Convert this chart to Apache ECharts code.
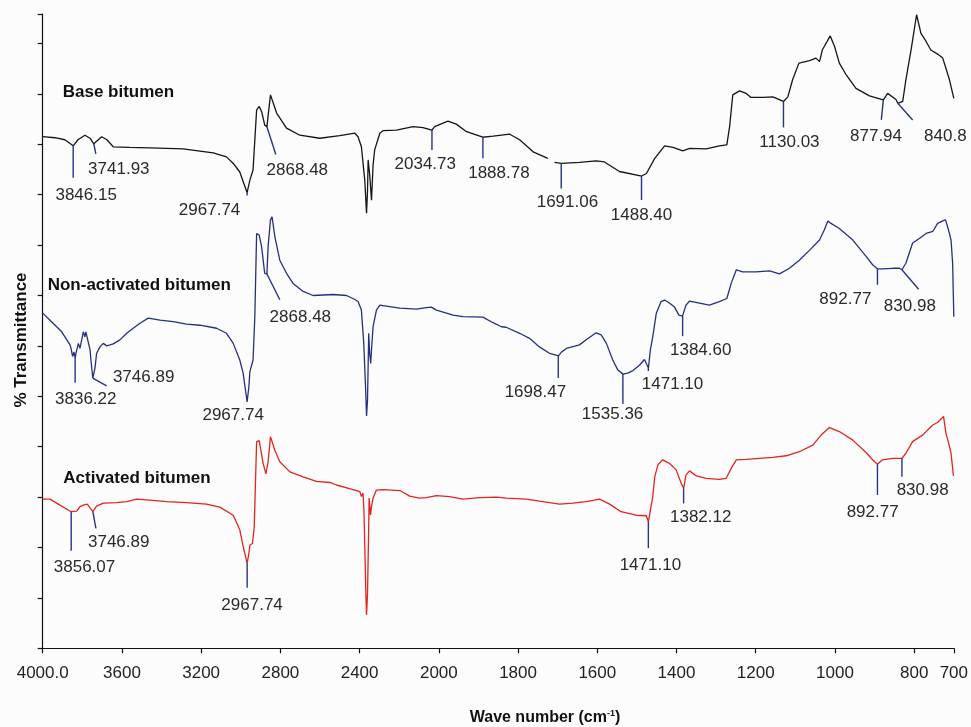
<!DOCTYPE html>
<html>
<head>
<meta charset="utf-8">
<title>FTIR spectra of bitumen samples</title>
<script src="https://cdn.jsdelivr.net/npm/echarts@6/dist/echarts.min.js"></script>
<style>
  html, body { margin: 0; padding: 0; background: #fcfcfc; }
  #chart { width: 971px; height: 727px; }
</style>
</head>
<body>
<div id="chart"></div>
<script>
// FTIR spectra, [wave number (cm-1), % transmittance (offset, arbitrary units)]
// A null transmittance marks a break in the recorded trace.
const baseSpectrum = [
  [4000,10.15],[3938,10.13],[3888,10.09],[3846,9.97],[3822,10.09],[3787,10.18],[3761,10.12],[3742,10.01],
  [3702,10.15],[3676,10.09],[3644,9.95],[3560,9.94],[3459,9.93],[3291,9.91],[3139,9.83],[3072,9.75],
  [3038,9.62],[3005,9.45],[2968,9.04],[2954,9.29],[2938,9.49],[2920,10.68],[2907,10.75],[2894,10.64],
  [2879,10.38],[2868,10.35],[2850,10.98],[2819,10.62],[2769,10.32],[2702,10.18],[2601,10.12],[2500,10.17],
  [2424,10.22],[2408,10.15],[2391,9.95],[2374,9.29],[2365,8.63],[2360,9.09],[2357,9.69],[2349,9.39],
  [2340,8.89],[2332,9.59],[2324,9.89],[2298,10.22],[2282,10.27],[2214,10.28],[2130,10.35],[2080,10.33],
  [2035,10.28],[2021,10.35],[1977,10.46],[1956,10.40],[1930,10.25],[1889,10.14],[1863,10.16],[1821,10.20],
  [1796,10.09],[1762,9.85],[1725,9.72],[1716,null],[1708,9.64],[1691,9.62],[1645,9.64],[1603,9.67],[1582,9.65],
  [1544,9.46],[1488,9.37],[1476,9.42],[1455,9.72],[1430,9.97],[1409,9.94],[1384,9.87],[1367,9.92],
  [1325,9.91],[1292,9.97],[1273,9.99],[1266,10.35],[1258,10.98],[1241,11.06],[1224,11.01],[1212,10.93],
  [1182,10.93],[1157,10.94],[1130,10.85],[1119,10.94],[1107,11.28],[1091,11.61],[1064,11.66],[1048,11.71],
  [1039,11.64],[1032,11.87],[1012,12.15],[1001,11.94],[989,11.61],[972,11.38],[947,11.11],[913,10.96],
  [878,10.88],[867,11.01],[846,10.89],[841,10.81],[829,10.85],[821,11.28],[808,11.87],[794,12.57],
  [783,12.20],[770,12.04],[758,11.87],[741,11.79],[728,11.71],[711,11.28],[700,10.91]
];

const nonActivatedSpectrum = [
  [4000,6.65],[3963,6.51],[3904,6.28],[3862,6.02],[3857,5.95],[3849,5.79],[3842,5.88],[3836,5.76],
  [3832,5.85],[3820,6.05],[3812,5.95],[3803,6.12],[3795,6.28],[3787,6.18],[3782,6.28],[3773,6.25],
  [3761,5.92],[3754,5.62],[3747,5.36],[3736,5.56],[3728,5.85],[3711,5.98],[3694,6.05],[3677,6.00],
  [3660,6.02],[3644,6.04],[3610,6.12],[3576,6.25],[3543,6.35],[3509,6.45],[3467,6.55],[3408,6.51],
  [3341,6.48],[3274,6.43],[3206,6.41],[3122,6.35],[3072,6.25],[3038,6.05],[3005,5.72],[2988,5.46],
  [2968,4.89],[2959,5.19],[2954,5.49],[2946,5.52],[2938,5.72],[2929,6.58],[2920,8.23],[2907,8.20],
  [2895,7.97],[2879,7.44],[2868,7.43],[2862,7.97],[2850,8.50],[2842,8.56],[2828,8.17],[2803,7.70],
  [2769,7.44],[2736,7.24],[2685,7.08],[2635,7.00],[2584,7.01],[2534,7.02],[2466,7.00],[2424,6.92],
  [2408,6.88],[2391,6.71],[2379,6.05],[2370,5.19],[2365,4.61],[2360,4.93],[2354,6.25],[2349,5.85],
  [2344,5.65],[2340,5.92],[2332,6.38],[2315,6.71],[2298,6.81],[2265,6.79],[2197,6.75],[2113,6.73],
  [2063,6.76],[2038,6.77],[2012,6.71],[1964,6.61],[1939,6.58],[1889,6.57],[1863,6.46],[1842,6.38],
  [1830,6.37],[1796,6.25],[1771,6.15],[1746,5.98],[1720,5.85],[1698,5.80],[1690,5.88],[1678,5.95],
  [1645,6.02],[1628,6.12],[1603,6.26],[1590,6.22],[1577,6.05],[1561,5.72],[1548,5.52],[1535,5.44],
  [1523,5.46],[1510,5.51],[1493,5.62],[1481,5.73],[1471,5.56],[1466,5.92],[1460,6.18],[1451,6.65],
  [1439,6.88],[1430,6.91],[1418,6.85],[1405,6.77],[1394,6.61],[1385,6.59],[1376,6.81],[1367,6.89],
  [1342,6.85],[1317,6.81],[1292,6.88],[1273,6.94],[1262,7.24],[1249,7.51],[1233,7.47],[1199,7.47],
  [1165,7.49],[1140,7.43],[1115,7.54],[1090,7.70],[1064,7.90],[1039,8.10],[1027,8.30],[1018,8.48],
  [1010,8.43],[989,8.33],[955,8.10],[921,7.77],[905,7.61],[893,7.53],[880,7.53],[854,7.54],
  [837,7.54],[831,7.51],[821,7.64],[804,8.04],[787,8.13],[770,8.23],[753,8.27],[741,8.43],
  [728,8.48],[721,8.50],[716,8.37],[711,8.23],[707,8.10],[703,7.64],[700,6.58]
];

const activatedSpectrum = [
  [4000,2.96],[3963,2.96],[3913,2.84],[3856,2.71],[3828,2.72],[3812,2.81],[3795,2.84],[3787,2.81],
  [3775,2.86],[3747,2.71],[3728,2.82],[3694,2.88],[3627,2.89],[3576,2.91],[3526,2.96],[3459,2.94],
  [3374,2.91],[3274,2.89],[3173,2.86],[3106,2.80],[3038,2.64],[3005,2.35],[2988,2.02],[2968,1.69],
  [2959,1.88],[2954,2.05],[2941,2.08],[2932,2.41],[2920,4.10],[2907,4.12],[2887,3.67],[2873,3.46],
  [2862,3.70],[2850,4.20],[2845,4.23],[2828,3.93],[2803,3.70],[2752,3.50],[2685,3.40],[2618,3.31],
  [2551,3.29],[2517,3.24],[2433,3.15],[2399,3.11],[2391,3.01],[2383,3.08],[2378,2.74],[2369,1.16],
  [2365,0.66],[2360,1.09],[2355,2.21],[2352,2.98],[2345,2.64],[2340,2.81],[2332,2.98],[2315,3.14],
  [2282,3.15],[2197,3.13],[2147,3.02],[2097,2.98],[2063,2.99],[2012,3.03],[1973,3.01],[1939,2.96],
  [1897,2.99],[1855,3.00],[1830,2.98],[1779,2.96],[1746,2.92],[1695,2.86],[1662,2.88],[1628,2.91],
  [1594,2.96],[1569,2.86],[1540,2.71],[1502,2.64],[1476,2.63],[1471,2.51],[1466,2.74],[1460,3.01],
  [1455,3.40],[1447,3.64],[1435,3.74],[1418,3.67],[1401,3.54],[1388,3.27],[1382,3.17],[1376,3.44],
  [1367,3.52],[1350,3.42],[1325,3.37],[1292,3.35],[1275,3.37],[1262,3.57],[1249,3.74],[1224,3.75],
  [1191,3.77],[1157,3.79],[1123,3.82],[1090,3.90],[1056,4.03],[1035,4.23],[1014,4.38],[989,4.30],
  [955,4.13],[921,3.88],[905,3.74],[893,3.65],[880,3.74],[854,3.77],[831,3.77],[821,3.87],
  [804,4.10],[779,4.23],[753,4.43],[741,4.48],[726,4.60],[720,4.27],[713,4.07],[707,3.87],[701,3.42]
];

// Assigned band positions (cm-1), as printed on the spectra
const basePeaks = ['3846.15','3741.93','2967.74','2868.48','2034.73','1888.78','1691.06','1488.40','1130.03','877.94','840.8'];
const nonActivatedPeaks = ['3836.22','3746.89','2967.74','2868.48','1698.47','1535.36','1471.10','1384.60','892.77','830.98'];
const activatedPeaks = ['3856.07','3746.89','2967.74','1471.10','1382.12','892.77','830.98'];

// Wave-number axis tick labels
const xTickLabels = [4000, 3600, 3200, 2800, 2400, 2000, 1800, 1600, 1400, 1200, 1000, 800, 700];

// Leader-line end offset and label centre offset in px: [dx, dy, lx, ly]
const basePeakLayout = [
  [0,32,13,50],[2,10,25,25.5],[0,3,-37.6,18],[9,28,30.5,43.3],[0,20,-6.7,34.3],[0,21,16,35.6],
  [0,25,6.2,38.8],[0,24,0,39.4],[0,26,6,40.7],[-2,20,-7.3,36.7],[14.6,16.5,47.3,32.5]
];
const nonActivatedPeakLayout = [
  [0,25,10.6,41.2],[13.8,7.8,50.8,-0.4],[0,0,-14,13.6],[13,26,33.5,43.2],[0,22,-22.9,36.2],
  [0,30,-10.3,40.6],[0,3,24.2,16.6],[0,20.5,18.1,35],[0,16,-32.1,30.5],[16.7,19.5,7.9,36.2]
];
const activatedPeakLayout = [
  [0,39,13.3,55.8],[3.1,16.6,25.9,31],[0,25,4.9,42.7],[0,26.5,2,43.2],[0,15,17.1,29],
  [0,30.7,-4.8,47.9],[0,18.4,20.7,32]
];

// The wave-number scale is halved above 2000 cm-1 (standard FTIR presentation).
function toAxis(w) { return w <= 2000 ? w : 2000 + (w - 2000) / 2; }
function fromAxis(u) { return u <= 2000 ? u : 2000 + (u - 2000) * 2; }

// Linear interpolation of a spectrum at wave number w (breaks are skipped).
function interpolate(spectrum, w) {
  const pts = spectrum.filter(p => p[1] !== null);
  for (let i = 0; i < pts.length - 1; i++) {
    const a = pts[i], b = pts[i + 1];
    if (w <= a[0] && w >= b[0]) {
      const t = (a[0] - w) / (a[0] - b[0] || 1);
      return a[1] + (b[1] - a[1]) * t;
    }
  }
  return pts[pts.length - 1][1];
}

const NAVY = '#283488';
const LABEL_FONT = '17px "Liberation Sans", Arial, sans-serif';
const BOLD_FONT = 'bold 17px "Liberation Sans", Arial, sans-serif';

function lineSeries(name, spectrum, color) {
  return {
    name: name,
    type: 'line',
    data: spectrum.map(p => [toAxis(p[0]), p[1] === null ? '-' : p[1]]),
    showSymbol: false,
    symbol: 'none',
    connectNulls: false,
    clip: false,
    lineStyle: { color: color, width: 1.3 },
    emphasis: { disabled: true },
    z: 2
  };
}

function peakSeries(name, spectrum, peaks, layout) {
  return {
    name: name + ' bands',
    type: 'custom',
    clip: false,
    z: 3,
    silent: true,
    data: peaks.map(s => {
      const w = parseFloat(s);
      return [toAxis(w), interpolate(spectrum, w)];
    }),
    renderItem: function (params, api) {
      const p = api.coord([api.value(0), api.value(1)]);
      const L = layout[params.dataIndex];
      return {
        type: 'group',
        children: [
          {
            type: 'line',
            shape: { x1: p[0], y1: p[1], x2: p[0] + L[0], y2: p[1] + L[1] },
            style: { stroke: NAVY, lineWidth: 1.4 }
          },
          {
            type: 'text',
            x: p[0] + L[2],
            y: p[1] + L[3],
            style: {
              text: peaks[params.dataIndex],
              font: LABEL_FONT,
              fill: '#2a2a2a',
              align: 'center',
              verticalAlign: 'middle'
            }
          }
        ]
      };
    }
  };
}

const chart = echarts.init(document.getElementById('chart'), null, { renderer: 'canvas' });

const tickValues = xTickLabels.map(toAxis);

chart.setOption({
  backgroundColor: '#fcfcfc',
  animation: false,
  grid: { left: 42.7, right: 16.5, top: 14, bottom: 78.7, containLabel: false },
  xAxis: {
    type: 'value',
    min: 700,
    max: 3000,
    inverse: true,
    axisLine: { show: true, lineStyle: { color: '#111', width: 1.2 } },
    axisTick: { show: true, length: 5, customValues: tickValues, lineStyle: { color: '#111', width: 1.2 } },
    axisLabel: {
      show: true,
      customValues: tickValues,
      margin: 17,
      color: '#222',
      fontFamily: '"Liberation Sans", Arial, sans-serif',
      fontSize: 17,
      formatter: function (u) {
        const w = Math.round(fromAxis(u));
        return w === 4000 ? '4000.0' : String(w);
      }
    },
    splitLine: { show: false }
  },
  yAxis: {
    type: 'value',
    min: 0,
    max: 12.585,
    interval: 1,
    axisLine: { show: true, lineStyle: { color: '#111', width: 1.2 } },
    axisTick: { show: true, inside: false, length: 5, lineStyle: { color: '#111', width: 1.2 } },
    axisLabel: { show: false },
    splitLine: { show: false }
  },
  graphic: [
    {
      type: 'text', x: 21.7, y: 340, rotation: Math.PI / 2,
      style: { text: '% Transmittance', font: BOLD_FONT, fill: '#111', align: 'center', verticalAlign: 'middle' }
    },
    {
      type: 'text', x: 545, y: 718,
      style: {
        text: '{t|Wave number (cm}{s|-1}{t|)}',
        align: 'center', verticalAlign: 'middle',
        rich: {
          t: { font: 'bold 16px "Liberation Sans", Arial, sans-serif', fill: '#111', lineHeight: 18 },
          s: { font: 'bold 9px "Liberation Sans", Arial, sans-serif', fill: '#111', verticalAlign: 'top', lineHeight: 18 }
        }
      }
    },
    {
      type: 'text', x: 62.7, y: 92.5,
      style: { text: 'Base bitumen', font: BOLD_FONT, fill: '#111', align: 'left', verticalAlign: 'middle' }
    },
    {
      type: 'text', x: 47.7, y: 285.5,
      style: { text: 'Non-activated bitumen', font: BOLD_FONT, fill: '#111', align: 'left', verticalAlign: 'middle' }
    },
    {
      type: 'text', x: 63.3, y: 478,
      style: { text: 'Activated bitumen', font: BOLD_FONT, fill: '#111', align: 'left', verticalAlign: 'middle' }
    }
  ],
  series: [
    lineSeries('Base bitumen', baseSpectrum, '#151515'),
    lineSeries('Non-activated bitumen', nonActivatedSpectrum, '#26307f'),
    lineSeries('Activated bitumen', activatedSpectrum, '#e3241f'),
    peakSeries('Base bitumen', baseSpectrum, basePeaks, basePeakLayout),
    peakSeries('Non-activated bitumen', nonActivatedSpectrum, nonActivatedPeaks, nonActivatedPeakLayout),
    peakSeries('Activated bitumen', activatedSpectrum, activatedPeaks, activatedPeakLayout)
  ]
});
</script>
</body>
</html>
